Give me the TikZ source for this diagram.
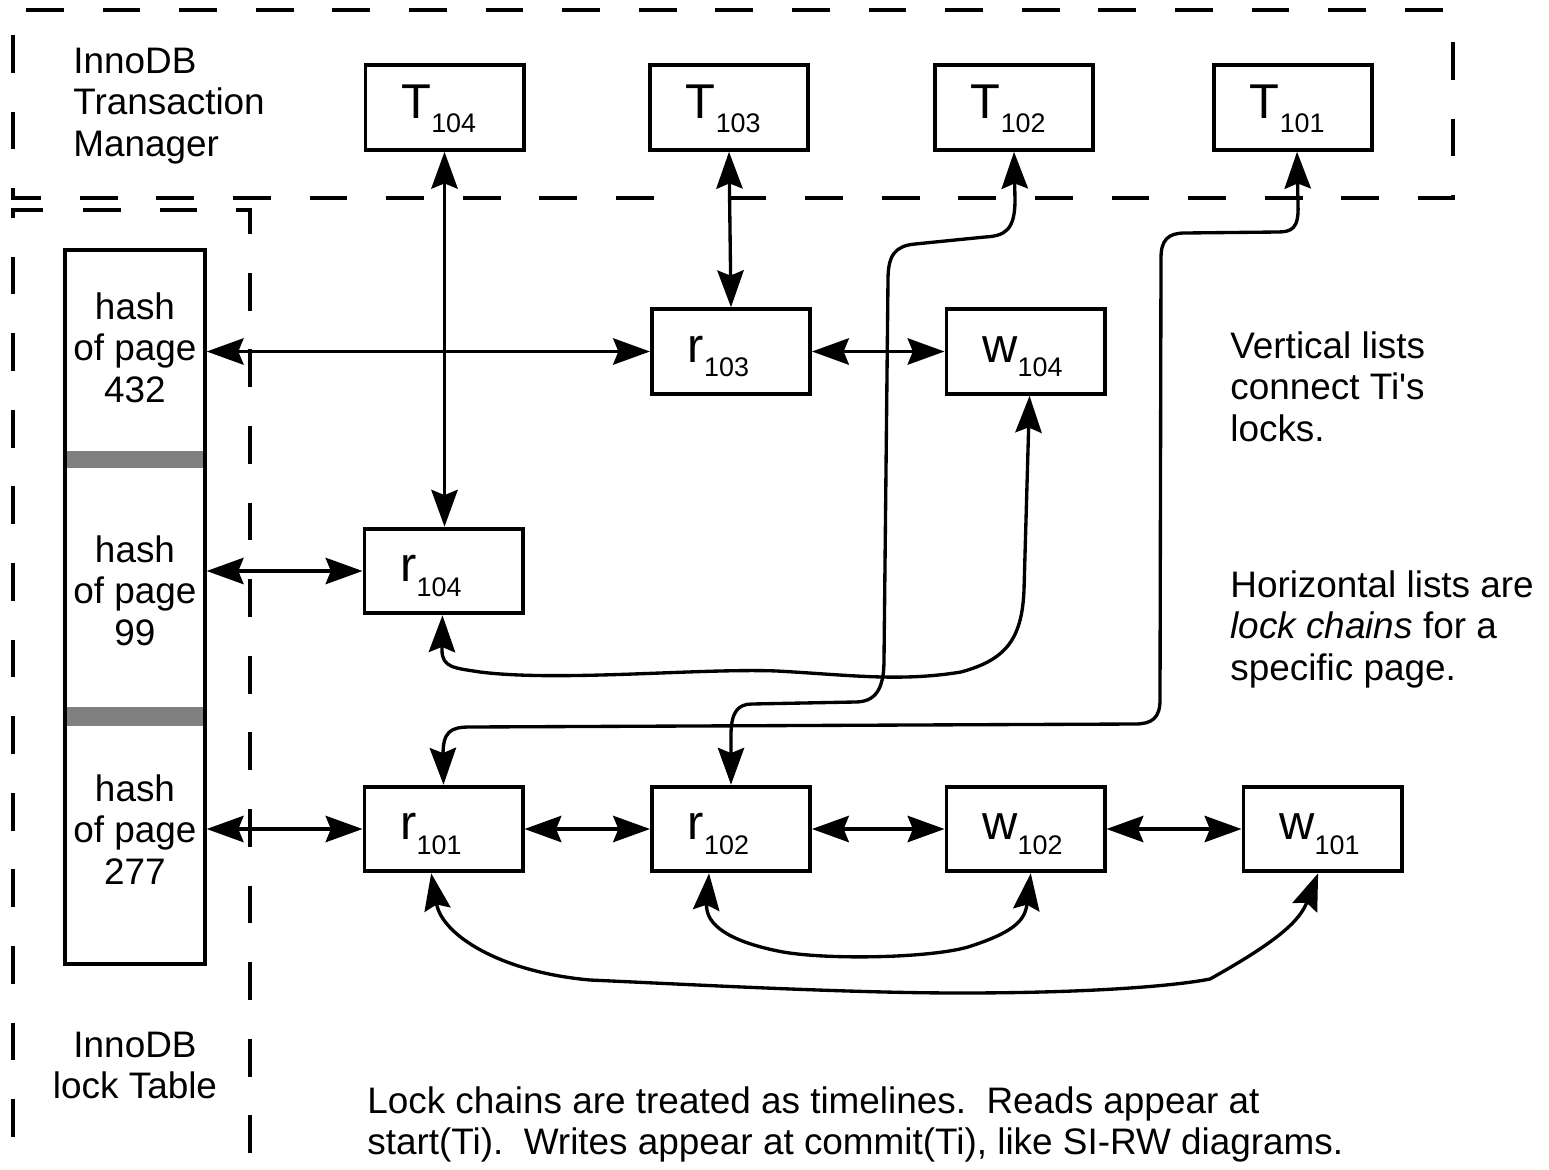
\documentclass[tikz,border=0pt]{standalone}
\usepackage{fontspec}
\setmainfont{Liberation Sans}[Ligatures=TeXOff]
\usetikzlibrary{arrows.meta}
\newcommand{\boxlbl}[2]{\makebox[49pt][l]{#1\raisebox{-8.5pt}{\fontsize{15.3pt}{16pt}\selectfont #2}}}
\newcommand{\mltxt}[2]{\begin{tabular}[t]{@{}#1@{}}#2\end{tabular}}
\definecolor{bargray}{HTML}{808080}
\begin{document}
\begin{tikzpicture}[x=0.02cm,y=-0.02cm,
  lockbox/.style={draw, line width=2.2pt, inner sep=0pt, minimum width=90pt, minimum height=48.2pt,
    text height=20.5pt, text depth=8.5pt, font=\fontsize{27.8pt}{30pt}\selectfont},
  txt/.style={inner sep=0pt, font=\fontsize{21pt}{23.8pt}\selectfont},
  conn/.style={line width=1.9pt, line join=round,
    {Stealth[length=21pt,width=15pt,inset=3pt]}-{Stealth[length=21pt,width=15pt,inset=3pt]}},
  dbox/.style={line width=2.3pt, dash pattern=on 21.5pt off 22.1pt}]
\useasboundingbox (0,0) rectangle (1549,1170);

% dashed regions
\draw[dbox] (26,10) -- (1453,10);
\draw[dbox] (13,35) -- (13,198) -- (690,198);
\draw[dbox] (1453,42) -- (1453,198) -- (690,198);
\draw[dbox] (43,210) -- (13,210) -- (13,1170);
\draw[dbox] (83,210) -- (250,210) -- (250,1170);

% hash table
\fill[bargray] (65,451) rectangle (205,468);
\fill[bargray] (65,707) rectangle (205,726);
\node[draw, line width=2.2pt, inner sep=0pt, minimum width=79.4pt, minimum height=405.9pt] (htable) at (135,607) {};
\node[txt, anchor=base] (h432) at (135,319) {\mltxt{c}{hash\\of page\\432}};
\node[txt, anchor=base] (h99) at (135,562) {\mltxt{c}{hash\\of page\\99}};
\node[txt, anchor=base] (h277) at (135,801) {\mltxt{c}{hash\\of page\\277}};

% transactions
\node[lockbox] (T104) at (444.5,107.5) {\boxlbl{T}{104}};
\node[lockbox] (T103) at (729,107.5) {\boxlbl{T}{103}};
\node[lockbox] (T102) at (1014,107.5) {\boxlbl{T}{102}};
\node[lockbox] (T101) at (1293,107.5) {\boxlbl{T}{101}};

% locks
\node[lockbox] (r103) at (731,351.5) {\boxlbl{r}{103}};
\node[lockbox] (w104) at (1025.5,351.5) {\boxlbl{w}{104}};
\node[lockbox] (r104) at (443.5,571) {\boxlbl{r}{104}};
\node[lockbox] (r101) at (443.5,829) {\boxlbl{r}{101}};
\node[lockbox] (r102) at (731,829) {\boxlbl{r}{102}};
\node[lockbox] (w102) at (1025.5,829) {\boxlbl{w}{102}};
\node[lockbox] (w101) at (1322.5,829) {\boxlbl{w}{101}};

% texts
\node[txt, anchor=base west] (tmtext) at (73,73) {\mltxt{l}{InnoDB\\Transaction\\Manager}};
\node[txt, anchor=base] (lttext) at (135,1057) {\mltxt{c}{InnoDB\\lock Table}};
\node[txt, anchor=base west] (vtext) at (1230,358) {\mltxt{l}{Vertical lists\\connect Ti's\\locks.}};
\node[txt, anchor=base west] (htext) at (1230,597) {\mltxt{l}{Horizontal lists are\\\textit{lock chains} for a\\specific page.}};
\node[txt, anchor=base west] (btext) at (367,1113) {\mltxt{l}{Lock chains are treated as timelines.\ \ Reads appear at\\start(Ti).\ \ Writes appear at commit(Ti), like SI-RW diagrams.}};

% vertical lists
\draw[conn] (T104.south) -- (T104.south |- r104.north);
\draw[conn] (T103.south) -- (r103.north);
\draw[conn] (T102.south) -- (1015,200) .. controls (1015,230) and (1005,236) .. (985,237)
  -- (915,244) .. controls (895,246) and (888,255) .. (888,280)
  -- (884,660) .. controls (884,690) and (875,702) .. (855,702)
  -- (752,704) .. controls (738,704) and (731,712) .. (731,735) -- (r102.north);
\draw[conn] ([xshift=2.3pt]T101.south) -- (1298,205) .. controls (1299,228) and (1292,232) .. (1278,232)
  -- (1185,233) .. controls (1168,233) and (1161,240) .. (1161,258)
  -- (1160,700) .. controls (1160,718) and (1152,724) .. (1135,724)
  -- (470,727) .. controls (450,727) and (443,732) .. (443,755) -- (r101.north);
\draw[conn] ([xshift=-0.6pt]r104.south) -- (442,650) .. controls (442,668) and (455,668) .. (480,672)
  .. controls (560,682) and (700,668) .. (777,671)
  .. controls (850,675) and (900,682) .. (961,672)
  .. controls (1005,660) and (1022,640) .. (1024,590) -- ([xshift=2.3pt]w104.south);

% horizontal lists
\draw[conn] (htable.east |- r103.west) -- (r103.west);
\draw[conn] (r103.east) -- (w104.west);
\draw[conn] (htable.east |- r104.west) -- (r104.west);
\draw[conn] (htable.east |- r101.west) -- (r101.west);
\draw[conn] (r101.east) -- (r102.west);
\draw[conn] (r102.east) -- (w102.west);
\draw[conn] (w102.east) -- (w101.west);

% timeline arcs
\draw[conn] ([xshift=-12.5pt]r102.south) .. controls (705,925) and (730,942) .. (783,952)
  .. controls (830,960) and (930,958) .. (968,947)
  .. controls (1015,932) and (1025,920) .. ([xshift=3pt]w102.south);
\draw[conn] ([xshift=-7pt]r101.south) .. controls (442,935) and (500,972) .. (590,980)
  .. controls (700,985) and (850,993) .. (960,993)
  .. controls (1100,993) and (1180,985) .. (1210,979)
  .. controls (1280,940) and (1300,920) .. ([xshift=-2.5pt]w101.south);
\end{tikzpicture}
\end{document}
